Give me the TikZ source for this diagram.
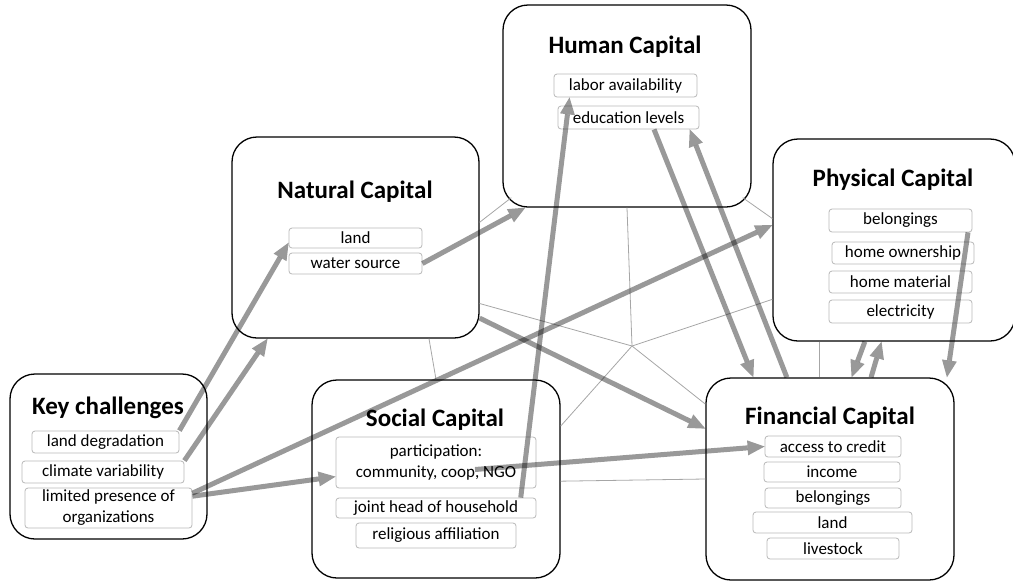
\documentclass[tikz,border=0pt]{standalone}
\usepackage{fontspec}
\setmainfont{Carlito}
\usetikzlibrary{arrows.meta}

\begin{document}
\begin{tikzpicture}[x=1pt, y=-1pt,
    capital/.style={draw=black, line width=1.3pt, rounded corners=25pt, fill=white, inner sep=0pt},
    title/.style={font=\fontsize{25}{27}\selectfont\bfseries},
    item/.style={draw=gray!55, line width=0.8pt, rounded corners=3pt, fill=white, inner sep=0pt,
                 align=center, font=\fontsize{17}{21}\selectfont},
    link/.style={draw=gray!70, line width=0.8pt},
    flow/.style={draw=black, opacity=0.4, line width=5pt,
                 -{Triangle[length=17pt,width=15pt,line width=0pt]}}]

    \useasboundingbox (0,0) rectangle (1013,582);

    % big boxes
    \node[capital, minimum width=197pt, minimum height=165pt] (keybox) at (108.5,456.5) {};
    \node[capital, minimum width=248pt, minimum height=198pt] (social) at (436,479) {};
    \node[capital, minimum width=248pt, minimum height=202pt] (financial) at (830,479) {};
    \node[capital, minimum width=247pt, minimum height=201pt] (natural) at (355.5,237.5) {};
    \node[capital, minimum width=248pt, minimum height=202pt] (human) at (627,106) {};
    \node[capital, minimum width=242pt, minimum height=202pt] (physical) at (894,240) {};

    % titles
    \node[title] (keytitle) at (108,408) {Key challenges};
    \node[title] (socialtitle) at (435,420) {Social Capital};
    \node[title] (fintitle) at (830,418) {Financial Capital};
    \node[title] (nattitle) at (355,192) {Natural Capital};
    \node[title] (humtitle) at (625,47) {Human Capital};
    \node[title] (phystitle) at (893,180) {Physical Capital};

    % key challenges
    \node[item, minimum width=147pt, minimum height=22pt] (kland) at (105.5,442) {land degradation};
    \node[item, minimum width=162pt, minimum height=22pt] (kclim) at (103,472) {climate variability};
    \node[item, minimum width=167pt, minimum height=40pt] (korg) at (108.5,508) {limited presence of\\organizations};

    % social capital
    \node[item, minimum width=200pt, minimum height=51pt] (spart) at (436,462.5) {participation:\\community, coop, NGO};
    \node[item, minimum width=200pt, minimum height=20pt] (shead) at (436,508) {joint head of household};
    \node[item, minimum width=160pt, minimum height=25pt] (srel) at (436,535.5) {religious affiliation};

    % financial capital
    \node[item, minimum width=136pt, minimum height=21pt] (fcred) at (833,446.5) {access to credit};
    \node[item, minimum width=136pt, minimum height=20pt] (finc) at (832,472) {income};
    \node[item, minimum width=136pt, minimum height=20pt] (fbel) at (833,498) {belongings};
    \node[item, minimum width=159pt, minimum height=21pt] (fland) at (832.5,522.5) {land};
    \node[item, minimum width=132pt, minimum height=21pt] (flive) at (833,548.5) {livestock};

    % natural capital
    \node[item, minimum width=133pt, minimum height=20pt] (nland) at (355.5,238) {land};
    \node[item, minimum width=133pt, minimum height=21pt] (nwater) at (355.5,263.5) {water source};

    % human capital
    \node[item, minimum width=143pt, minimum height=23pt] (hlabor) at (625.5,85.5) {labor availability};
    \node[item, minimum width=141pt, minimum height=23pt] (hedu) at (628.5,117.5) {education levels};

    % physical capital
    \node[item, minimum width=143pt, minimum height=23pt] (pbel) at (900.5,220.5) {belongings};
    \node[item, minimum width=142pt, minimum height=22pt] (pown) at (903,253) {home ownership};
    \node[item, minimum width=143pt, minimum height=22pt] (pmat) at (900.5,282) {home material};
    \node[item, minimum width=143pt, minimum height=23pt] (pelec) at (900.5,311.5) {electricity};

    % thin links: hub and pentagon
    \coordinate (hub) at (632,346);
    \draw[link] (hub) -- (human.south);
    \draw[link] (hub) -- (natural.332);
    \draw[link] (hub) -- (physical.206);
    \draw[link] (hub) -- (financial.149);
    \draw[link] (hub) -- (social.23);
    \draw[link] (natural.7) -- ([xshift=9pt,yshift=10pt]human.south west);
    \draw[link] ([xshift=-9pt,yshift=10pt]human.south east) -- (physical.170);
    \draw[link] ([xshift=-75pt]physical.south) -- ([xshift=-11pt]financial.north);
    \draw[link] (financial.west) -- (social.359);
    \draw[link] (social.north) -- (natural.306);

    % thick arrows
    \draw[flow] (kland.north east) -- (nland.184);
    \draw[flow] (kclim.north east) -- (natural.229);
    \draw[flow] (korg.10) -- (physical.173);
    \draw[flow] (korg.8) -- (spart.188);
    \draw[flow] (nwater.east) -- (human.225);
    \draw[flow] (shead.7) -- (hlabor.192);
    \draw[flow] ([xshift=39pt,yshift=-7pt]spart.center) -- (fcred.west);
    \draw[flow] (natural.327) -- (financial.158);
    \draw[flow] (hedu.335) -- (financial.127);
    \draw[flow] (financial.113) -- (hedu.349);
    \draw[flow] (physical.254) -- (financial.78);
    \draw[flow] (financial.68) -- (physical.263);
    \draw[flow] (pbel.350) -- (financial.41);

\end{tikzpicture}
\end{document}
